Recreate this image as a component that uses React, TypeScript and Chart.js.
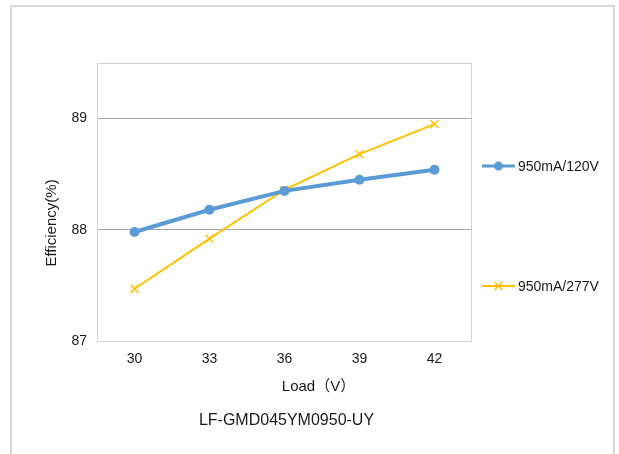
import React, { useEffect, useRef } from "react";
import { Chart, registerables } from "chart.js";

Chart.register(...registerables);

const loads = ["30", "33", "36", "39", "42"];
const eff120 = [87.98, 88.18, 88.35, 88.45, 88.54];
const eff277 = [87.47, 87.92, 88.36, 88.68, 88.95];
const seriesNames = ["950mA/120V", "950mA/277V"];
const seriesColors = ["#5b9bd5", "#ffc000"];
const yMin = 87;
const yMax = 89.5;
const chartTitle = "LF-GMD045YM0950-UY";
const xTitle = "Load（V）";
const yTitle = "Efficiency(%)";

const FONT = "'Liberation Sans', Arial, 'Noto Sans CJK SC', sans-serif";
const TEXT = "#1a1a1a";

const extras = {
  id: "extras",
  beforeDraw(chart: any) {
    const ctx = chart.ctx;
    ctx.save();
    ctx.fillStyle = "#ffffff";
    ctx.fillRect(0, 0, chart.width, chart.height);
    ctx.strokeStyle = "#d9d9d9";
    ctx.lineWidth = 2;
    ctx.strokeRect(11, 6, 603, 470);
    ctx.restore();
  },
  beforeDatasetsDraw(chart: any) {
    const { ctx, chartArea: a } = chart;
    ctx.save();
    ctx.strokeStyle = "#d4d4d4";
    ctx.lineWidth = 1;
    ctx.strokeRect(a.left + 0.5, a.top + 0.5, a.right - a.left - 1, a.bottom - a.top);
    ctx.restore();
  },
  afterDraw(chart: any) {
    const { ctx } = chart;
    ctx.save();
    // legend
    const ys = [166, 286];
    chart.data.datasets.forEach((ds: any, i: number) => {
      const y = ys[i];
      ctx.strokeStyle = ds.borderColor;
      ctx.lineWidth = i === 0 ? 3 : 2;
      ctx.beginPath();
      ctx.moveTo(482, y);
      ctx.lineTo(515, y);
      ctx.stroke();
      if (ds.pointStyle === "circle") {
        ctx.fillStyle = ds.pointBackgroundColor;
        ctx.beginPath();
        ctx.arc(498.5, y, 4.5, 0, Math.PI * 2);
        ctx.fill();
      } else {
        ctx.lineWidth = 1.5;
        const r = 4;
        ctx.beginPath();
        ctx.moveTo(498.5 - r, y - r);
        ctx.lineTo(498.5 + r, y + r);
        ctx.moveTo(498.5 - r, y + r);
        ctx.lineTo(498.5 + r, y - r);
        ctx.stroke();
      }
      ctx.fillStyle = TEXT;
      ctx.font = `14px ${FONT}`;
      ctx.textAlign = "left";
      ctx.textBaseline = "middle";
      ctx.fillText(ds.label, 518, y + 1);
    });
    // axis titles
    ctx.fillStyle = TEXT;
    ctx.font = `15px ${FONT}`;
    ctx.textAlign = "center";
    ctx.textBaseline = "middle";
    ctx.fillText(xTitle, 318.5, 387);
    ctx.save();
    ctx.translate(52, 223);
    ctx.rotate(-Math.PI / 2);
    ctx.fillText(yTitle, 0, 0);
    ctx.restore();
    // chart caption
    ctx.font = `16px ${FONT}`;
    ctx.fillText(chartTitle, 286.5, 421);
    ctx.restore();
  },
};

export default function App() {
  const ref = useRef<HTMLCanvasElement>(null);
  useEffect(() => {
    if (!ref.current) return;
    const chart = new Chart(ref.current, {
      type: "line",
      data: {
        labels: loads,
        datasets: [
          {
            label: seriesNames[0],
            data: eff120,
            borderColor: seriesColors[0],
            backgroundColor: seriesColors[0],
            pointBackgroundColor: seriesColors[0],
            pointBorderColor: seriesColors[0],
            borderWidth: 4,
            pointStyle: "circle",
            pointRadius: 5,
            pointBorderWidth: 0,
            tension: 0,
          },
          {
            label: seriesNames[1],
            data: eff277,
            borderColor: seriesColors[1],
            backgroundColor: seriesColors[1],
            pointBackgroundColor: seriesColors[1],
            pointBorderColor: seriesColors[1],
            borderWidth: 2,
            pointStyle: "crossRot",
            pointRadius: 5.5,
            pointBorderWidth: 1.5,
            tension: 0,
          },
        ],
      },
      options: {
        responsive: false,
        animation: false,
        layout: { padding: { left: 0, top: 63, right: 147, bottom: 0 } },
        plugins: {
          legend: { display: false },
          title: { display: false },
          tooltip: { enabled: false },
        },
        scales: {
          x: {
            type: "category",
            offset: true,
            grid: { display: false, drawTicks: false },
            border: { display: false },
            ticks: { color: TEXT, font: { family: FONT, size: 14 }, padding: 10, maxRotation: 0 },
            afterFit: (s: any) => {
              s.height = 113;
            },
          },
          y: {
            min: yMin,
            max: yMax,
            grid: {
              drawTicks: false,
              color: (c: any) =>
                c.tick && c.tick.value > yMin && c.tick.value < yMax ? "#a6a6a6" : "rgba(0,0,0,0)",
            },
            border: { display: false },
            ticks: { stepSize: 1, color: TEXT, font: { family: FONT, size: 14 }, padding: 10 },
            afterBuildTicks: (s: any) => {
              s.ticks = s.ticks.filter((t: any) => Number.isInteger(t.value));
            },
            afterFit: (s: any) => {
              s.width = 97;
            },
          },
        },
      },
      plugins: [extras],
    });
    return () => chart.destroy();
  }, []);
  return (
    <div style={{ position: "absolute", left: 0, top: 0, width: 619, height: 454, background: "#fff" }}>
      <canvas ref={ref} width={619} height={454} style={{ width: 619, height: 454, display: "block" }} />
    </div>
  );
}
